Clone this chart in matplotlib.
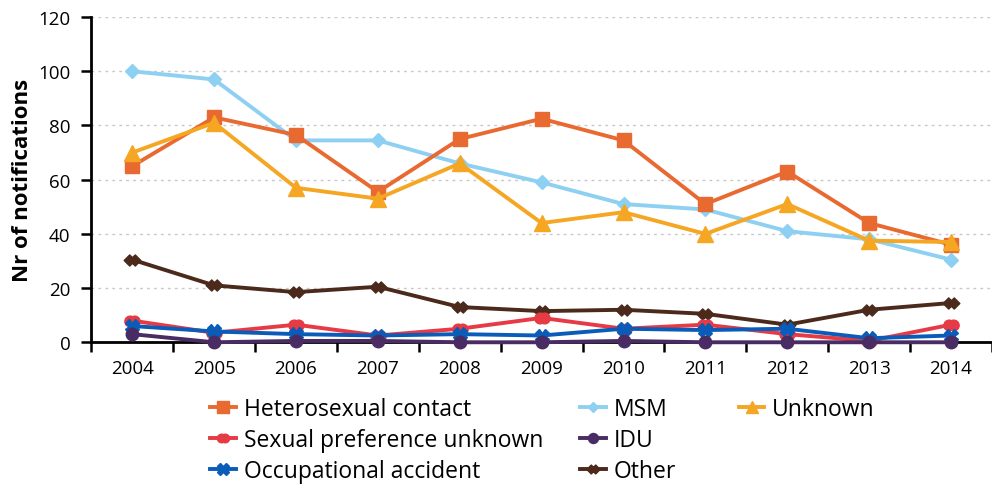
import matplotlib
matplotlib.use("Agg")
import matplotlib.pyplot as plt
from matplotlib.path import Path
from matplotlib.lines import Line2D

years = ["2004", "2005", "2006", "2007", "2008", "2009", "2010", "2011", "2012", "2013", "2014"]
hetero = [65, 83, 76.5, 55.5, 75, 82.5, 74.5, 51, 63, 44, 36]
msm = [100, 97, 74.5, 74.5, 66, 59, 51, 49, 41, 38, 30.5]
unknown = [70, 81, 57, 53, 66, 44, 48, 40, 51, 37.5, 37]
sexpref = [8, 3.5, 6.5, 2.5, 5, 9, 5, 6.5, 3, 0.5, 6.5]
idu = [3, 0, 0.5, 0.5, 0, 0, 0.5, 0, 0, 0, 0]
occup = [6, 4, 3, 2.5, 3, 2.5, 5, 4.5, 5, 1.5, 2.5]
other = [30.5, 21, 18.5, 20.5, 13, 11.5, 12, 10.5, 6.5, 12, 14.5]

plt.rcParams['font.family'] = ['Open Sans', 'DejaVu Sans']

# custom markers: doubled circle and doubled diamond
dbl_circle = Path.make_compound_path(Path.circle((-0.3, 0), 0.7), Path.circle((0.3, 0), 0.7))
def diamond(cx, s=0.7):
    return Path([(cx - s, 0), (cx, s), (cx + s, 0), (cx, -s), (cx - s, 0)],
                [Path.MOVETO, Path.LINETO, Path.LINETO, Path.LINETO, Path.CLOSEPOLY])
dbl_diamond = Path.make_compound_path(diamond(-0.35), diamond(0.35))

fig = plt.figure(figsize=(9.92, 4.89), dpi=100)
ax = fig.add_axes([0.092, 0.298, 0.908, 0.665])

x = list(range(len(years)))
lw = 2.8
series = [
    (hetero, "Heterosexual contact", "#E86A30", "s", 10),
    (sexpref, "Sexual preference unknown", "#E63A45", dbl_circle, 11),
    (occup, "Occupational accident", "#0A5CB8", "X", 10),
    (msm, "MSM", "#8ED0F2", "D", 7),
    (idu, "IDU", "#4A2C64", "o", 9),
    (other, "Other", "#4B2A1B", dbl_diamond, 12),
    (unknown, "Unknown", "#F5A623", "^", 11),
]
draw_order = [3, 0, 6, 5, 1, 2, 4]
handles = {}
for i in draw_order:
    vals, lab, col, mk, ms = series[i]
    h, = ax.plot(x, vals, color=col, lw=lw, marker=mk, markersize=ms,
                 markeredgecolor=col, label=lab, clip_on=False, zorder=3)
    handles[i] = h

ax.set_xlim(-0.5, 10.5)
ax.set_ylim(0, 120)
ax.set_yticks(range(0, 121, 20))
ax.set_xticks(x)
ax.set_xticklabels(years)
ax.set_xticks([i + 0.5 for i in range(-1, 11)], minor=True)
ax.tick_params(axis='x', which='major', length=0, labelsize=13.5, pad=12)
ax.tick_params(axis='x', which='minor', length=7, width=1.8, direction='out')
ax.tick_params(axis='y', labelsize=13.5, length=7, width=1.8, direction='out', pad=8)
ax.yaxis.grid(True, linestyle=(0, (2, 3)), color='#c8c8c8', lw=1)
ax.set_axisbelow(True)
for s in ['top', 'right']:
    ax.spines[s].set_visible(False)
for s in ['left', 'bottom']:
    ax.spines[s].set_linewidth(2)
ax.set_ylabel("Nr of notifications", fontsize=16, fontweight='bold', labelpad=4)

# legend: three columns placed individually
cols = [([0, 1, 2], 0.212), ([3, 4, 5], 0.585), ([6], 0.745)]
for idxs, xpos in cols:
    hs = []
    for i in idxs:
        vals, lab, col, mk, ms = series[i]
        hs.append(Line2D([], [], color=col, lw=lw, marker=mk, markersize=ms * 0.8,
                         markeredgecolor=col))
    leg = fig.legend(hs, [series[i][1] for i in idxs], loc='upper left',
                     bbox_to_anchor=(xpos, 0.187), frameon=False, fontsize=16.5,
                     handlelength=1.1, handletextpad=0.35, labelspacing=0.32,
                     borderpad=0, borderaxespad=0)

fig.savefig("out.png", dpi=100)
